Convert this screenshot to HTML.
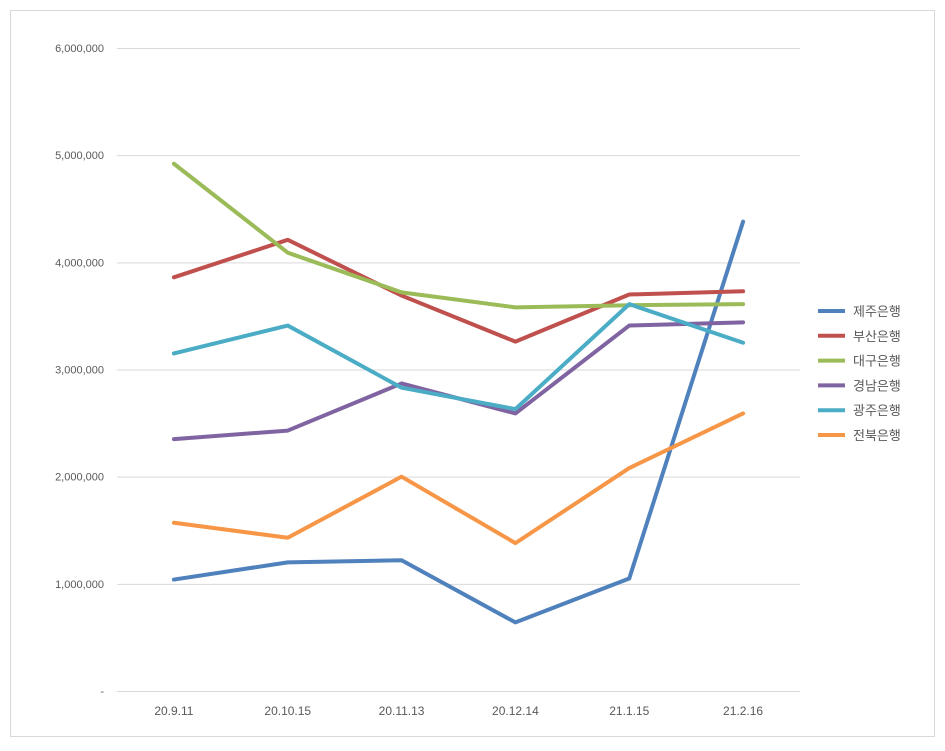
<!DOCTYPE html>
<html><head><meta charset="utf-8"><style>
body{margin:0;background:#fff;font-family:"Liberation Sans","Noto Sans CJK KR",sans-serif;}
</style></head><body>
<svg id="chart" width="945" height="746" xmlns="http://www.w3.org/2000/svg">
<rect x="10.5" y="10.5" width="924" height="726" fill="#fff" stroke="#d9d9d9"/>
<g id="grid"></g><g id="axes"></g><g id="series"></g><g id="legend"></g>
</svg>
<script>
const categories=["20.9.11","20.10.15","20.11.13","20.12.14","21.1.15","21.2.16"];
const seriesNames=["제주은행","부산은행","대구은행","경남은행","광주은행","전북은행"];
const jeju=[1040000,1200000,1220000,640000,1050000,4380000];
const busan=[3860000,4210000,3690000,3260000,3700000,3730000];
const daegu=[4920000,4090000,3720000,3580000,3600000,3610000];
const gyeongnam=[2350000,2430000,2870000,2590000,3410000,3440000];
const gwangju=[3150000,3410000,2830000,2630000,3610000,3250000];
const jeonbuk=[1570000,1430000,2000000,1380000,2080000,2590000];
const yTicks=[0,1000000,2000000,3000000,4000000,5000000,6000000];
const yTickLabels=["-","1,000,000","2,000,000","3,000,000","4,000,000","5,000,000","6,000,000"];
const colors=["#4F81BD","#C0504D","#9BBB59","#8064A2","#4BACC6","#F79646"];
const allSeries=[jeju,busan,daegu,gyeongnam,gwangju,jeonbuk];
const NS="http://www.w3.org/2000/svg";
const y0=691,yTop=48,yMax=6000000,xL=117,xR=800;
const y=v=>y0-(v/yMax)*(y0-yTop);
const step=(xR-xL)/categories.length;
const x=i=>xL+step*(i+0.5);
function mk(tag,attrs,parent){const e=document.createElementNS(NS,tag);for(const k in attrs)e.setAttribute(k,attrs[k]);parent.appendChild(e);return e;}
const grid=document.getElementById('grid'),axes=document.getElementById('axes'),ser=document.getElementById('series'),leg=document.getElementById('legend');
yTicks.forEach((t,i)=>{
 const l=mk('line',{x1:xL,x2:xR,y1:y(t)+0.5,y2:y(t)+0.5,stroke:'#d9d9d9'},grid);
 
 
 const tx=mk('text',{x:104,y:y(t)+4,'text-anchor':'end','font-size':'11',fill:'#595959'},axes);
 tx.textContent=yTickLabels[i];
 
 
});
categories.forEach((c,i)=>{
 const tx=mk('text',{x:x(i),y:715,'text-anchor':'middle','font-size':'12',fill:'#595959'},axes);
 tx.textContent=c;
 
 
});
allSeries.forEach((s,k)=>{
 const p=mk('polyline',{points:s.map((v,i)=>x(i)+','+y(v)).join(' '),fill:'none',stroke:colors[k],'stroke-width':'4','stroke-linejoin':'round','stroke-linecap':'round'},ser);
 
 
 const ly=311+k*24.8;
 const g=mk('g',{},leg);
 
 
 mk('line',{x1:818,x2:845,y1:ly,y2:ly,stroke:colors[k],'stroke-width':'4'},g);
 const tx=mk('text',{x:853,y:ly+5,'font-size':'13',fill:'#595959'},g);
 tx.textContent=seriesNames[k];
});
</script>
</body></html>
